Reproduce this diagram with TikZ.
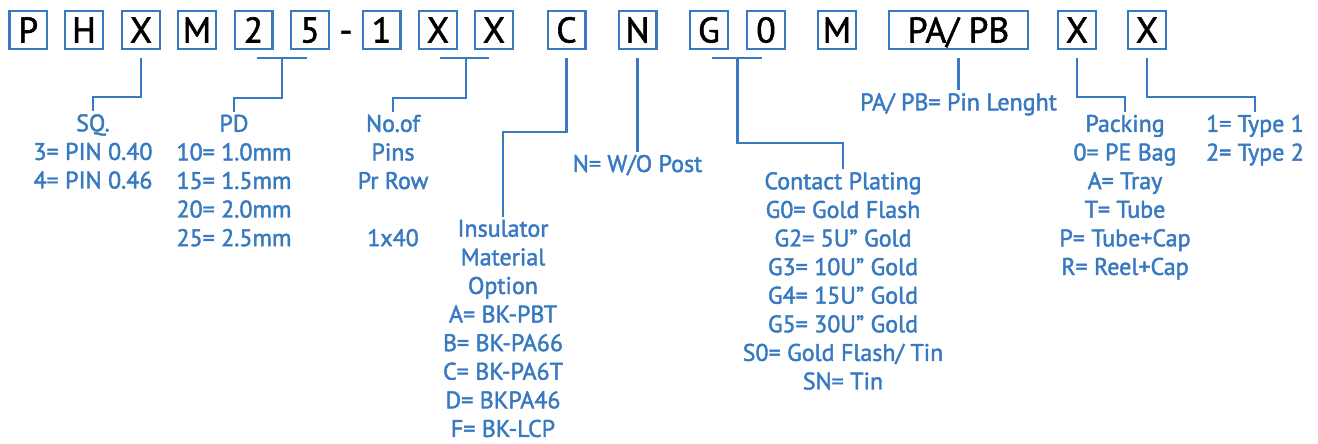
\documentclass[tikz,border=0pt]{standalone}
\usepackage{fontspec}
\setmainfont{PT Sans}
\newfontfamily\lblfont{PT Sans}[FakeBold=1.8]
\newfontfamily\boxfont{PT Sans}[FakeBold=1.5]
\usetikzlibrary{calc}
\definecolor{pblue}{RGB}{56,122,194}
\begin{document}
\begin{tikzpicture}[x=1pt,y=-1pt,
  cbox/.style={draw=pblue, line width=2.4pt, minimum width=37.6pt, minimum height=37.6pt,
    inner sep=0pt, text height=25pt, text depth=0pt, text=black,
    font=\boxfont\fontsize{35.7}{40}\selectfont},
  dashch/.style={inner sep=0pt, text height=25pt, text depth=0pt, text=black,
    font=\boxfont\fontsize{35.7}{40}\selectfont},
  lbl/.style={text=pblue, align=center, inner sep=0pt, anchor=north,
    font=\lblfont\fontsize{24}{28.6}\selectfont},
  conn/.style={draw=pblue, line width=2.4pt}]
\useasboundingbox (0,0) rectangle (1318,444);
% code boxes
\node[cbox] (bP)  at (28.3,30) {P};
\node[cbox] (bH)  at (84,30) {H};
\node[cbox] (bX1) at (141,30) {X};
\node[cbox] (bM1) at (197,30) {M};
\node[cbox] (b2)  at (253.5,30) {2};
\node[cbox] (b5)  at (310,30) {5};
\node[dashch] (dsh) at (346,30) {-};
\node[cbox] (b1)  at (381.5,30) {1};
\node[cbox] (bX2) at (438,30) {X};
\node[cbox] (bX3) at (494,30) {X};
\node[cbox] (bC)  at (566.5,30) {C};
\node[cbox] (bN)  at (637.5,30) {N};
\node[cbox] (bG)  at (709,30) {G};
\node[cbox] (b0)  at (766,30) {0};
\node[cbox] (bM2) at (837,30) {M};
\node[cbox, minimum width=138.6pt] (bPA) at (958.5,30) {PA/ PB};
\node[cbox] (bX4) at (1077,30) {X};
\node[cbox] (bX5) at (1147,30) {X};
% labels
\node[lbl] (sq) at (93,114) {SQ.\\3= PIN 0.40\\4= PIN 0.46};
\node[lbl] (pd) at (234,114.5) {PD\\10= 1.0mm\\15= 1.5mm\\20= 2.0mm\\25= 2.5mm};
\node[lbl] (nof) at (393,114.5) {No.of\\Pins\\Pr Row\\[28.6pt]1x40};
\node[lbl] (ins) at (503,219.7) {Insulator\\Material\\Option\\A= BK-PBT\\B= BK-PA66\\C= BK-PA6T\\D= BKPA46\\F= BK-LCP};
\node[lbl] (npost) at (637.5,154.7) {N= W/O Post};
\node[lbl] (cp) at (843,172) {Contact Plating\\G0= Gold Flash\\G2= 5U” Gold\\G3= 10U” Gold\\G4= 15U” Gold\\G5= 30U” Gold\\S0= Gold Flash/ Tin\\SN= Tin};
\node[lbl] (pin) at (958.5,93) {PA/ PB= Pin Lenght};
\node[lbl] (pack) at (1125,114.7) {Packing\\0= PE Bag\\A= Tray\\T= Tube\\P= Tube+Cap\\R= Reel+Cap};
\node[lbl] (typ) at (1255,114.7) {1= Type 1\\2= Type 2};
% junctions
\coordinate (jsq) at (93,97);
\coordinate (jpd) at (234,98);
\coordinate (jnof) at (393,98);
\coordinate (jins) at (503,132);
\coordinate (jcp) at (843,143);
\coordinate (jpack) at (1125,97);
\coordinate (jtype) at (1255,97);
\coordinate (m25) at ($(b2.south)!0.5!(b5.south)+(0,8)$);
\coordinate (mXX) at ($(bX2.south)!0.5!(bX3.south)+(0,8)$);
\coordinate (mG0) at ($(bG.south)!0.5!(b0.south)+(0,8)$);
% connectors
\draw[conn] ([yshift=-8pt]bX1.south) |- (jsq) -- ([yshift=3pt]sq.north);
\draw[conn] ([xshift=3pt,yshift=-8pt]b2.south) -- ([xshift=-3pt,yshift=-8pt]b5.south);
\draw[conn] (m25) |- (jpd) -- ([yshift=3pt]pd.north);
\draw[conn] ([xshift=2pt,yshift=-8pt]bX2.south) -- ([xshift=-5pt,yshift=-8pt]bX3.south);
\draw[conn] (mXX) |- (jnof) -- ([yshift=3pt]nof.north);
\draw[conn] ([yshift=-8pt]bC.south) |- (jins) -- ([yshift=3pt]ins.north);
\draw[conn] ([yshift=-8pt]bN.south) -- ([yshift=3pt]npost.north);
\draw[conn] ([xshift=3pt,yshift=-8pt]bG.south) -- ([xshift=-4pt,yshift=-8pt]b0.south);
\draw[conn] (mG0) |- (jcp) -- ([yshift=3pt]cp.north);
\draw[conn] ([yshift=-8pt]bPA.south) -- ([yshift=3pt]pin.north);
\draw[conn] ([yshift=-8pt]bX4.south) |- (jpack) -- ([yshift=3pt]pack.north);
\draw[conn] ([yshift=-8pt]bX5.south) |- (jtype) -- ([yshift=3pt]typ.north);
\end{tikzpicture}
\end{document}
